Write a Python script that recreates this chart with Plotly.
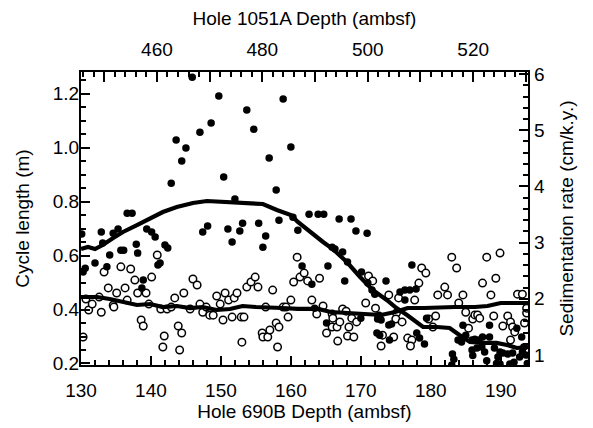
import plotly.graph_objects as go

# Filled dots (cycle length, m) vs depth
filled_x = [149.7,143.6,145.0,144.4,147.0,148.6,142.9,150.4,153.7,154.7,158.9,160.0,156.9,157.9,152.0,145.9,
            130.1,132.9,130.6,130.3,132.0,133.1,134.1,133.7,134.6,135.3,135.7,136.1,136.6,137.3,137.9,138.1,138.9,138.7,
            139.4,140.1,140.6,141.0,141.3,142.0,142.4,147.4,148.1,151.0,151.6,152.7,153.1,155.4,156.4,156.0,158.3,161.0,
            160.3,162.6,163.9,164.7,166.9,168.6,169.3,170.9,165.9,166.3,167.4,168.1,161.6,165.3,170.1,163.0,167.7,
            171.0,171.6,172.0,173.6,177.3,175.6,176.3,177.0,177.9,176.3,163.4,165.1,170.0,172.4,172.9,174.0,174.4,
            172.3,172.7,174.1,178.0,178.4,179.1,179.4,183.1,183.3,183.0,183.9,184.4,184.6,185.0,185.9,186.6,185.9,186.3,
            186.9,187.4,188.4,188.4,187.3,187.7,189.1,189.6,189.9,190.3,191.0,191.7,191.3,192.3,193.0,193.3,193.6,
            189.4,189.9,192.7,193.1,191.9,193.8,186.0,188.0]
filled_y = [1.191,1.028,0.998,0.950,1.057,1.091,0.868,0.891,1.139,1.068,1.180,1.002,0.961,0.843,0.809,1.261,
            0.680,0.687,0.553,0.539,0.572,0.646,0.602,0.558,0.683,0.698,0.620,0.620,0.757,0.757,0.642,0.609,0.509,0.480,
            0.698,0.687,0.669,0.565,0.572,0.639,0.628,0.687,0.709,0.698,0.650,0.691,0.720,0.720,0.672,0.631,0.731,0.694,
            0.742,0.753,0.753,0.753,0.735,0.735,0.691,0.683,0.631,0.624,0.613,0.576,0.561,0.561,0.539,0.494,0.506,
            0.498,0.472,0.457,0.506,0.565,0.465,0.472,0.472,0.476,0.435,0.405,0.350,0.368,0.365,0.361,0.343,0.346,
            0.313,0.305,0.287,0.313,0.294,0.272,0.368,0.235,0.216,0.194,0.287,0.280,0.342,0.305,0.250,0.257,0.287,0.290,
            0.287,0.298,0.342,0.298,0.261,0.243,0.257,0.224,0.243,0.239,0.235,0.239,0.198,0.331,0.298,0.261,0.231,
            0.200,0.198,0.224,0.243,0.205,0.200,0.230,0.210]

# Open circles (cycle length, m) vs depth
open_x = [130.3,130.7,131.1,131.6,132.6,132.9,133.3,133.9,134.6,134.7,135.1,135.7,136.3,136.6,137.1,137.7,138.1,
          138.6,138.9,139.3,139.7,140.1,140.9,141.4,141.7,141.9,142.3,142.9,143.4,143.9,144.4,144.1,144.7,145.6,146.0,
          146.6,147.0,147.4,147.9,148.4,148.9,149.4,149.9,150.3,150.6,151.1,151.6,151.9,152.3,152.9,153.3,153.0,153.7,
          154.3,154.9,155.3,155.9,156.0,156.7,156.4,157.0,157.4,157.9,158.3,158.1,158.9,159.3,159.6,160.0,160.4,160.9,
          161.3,161.9,162.4,164.1,163.0,164.6,163.7,165.9,166.0,165.1,165.9,166.6,167.0,166.7,167.4,167.9,168.3,168.1,
          169.0,168.7,169.4,171.1,171.7,170.7,172.1,172.6,173.1,172.9,174.0,174.7,175.1,175.0,175.4,175.9,176.7,177.3,
          177.1,177.7,178.3,178.7,179.3,179.7,180.7,180.3,181.0,182.0,182.4,183.0,183.7,184.0,184.6,185.0,185.4,186.0,
          186.3,186.7,187.0,187.4,188.0,188.6,189.3,189.9,189.0,190.3,191.0,191.4,191.7,192.0,192.4,193.1,193.7,193.7,
          193.4,191.4]
open_y = [0.298,0.439,0.398,0.420,0.446,0.390,0.539,0.480,0.416,0.409,0.461,0.558,0.480,0.435,0.550,0.509,0.461,
          0.361,0.339,0.461,0.420,0.520,0.602,0.402,0.261,0.302,0.402,0.409,0.443,0.339,0.313,0.250,0.461,0.402,0.513,
          0.491,0.420,0.390,0.409,0.379,0.379,0.450,0.420,0.361,0.461,0.435,0.372,0.443,0.461,0.372,0.372,0.279,0.483,
          0.502,0.520,0.483,0.313,0.298,0.298,0.409,0.324,0.472,0.350,0.335,0.261,0.409,0.409,0.372,0.435,0.502,0.594,
          0.520,0.535,0.506,0.516,0.435,0.413,0.383,0.383,0.368,0.313,0.335,0.335,0.354,0.283,0.402,0.394,0.335,0.302,
          0.298,0.368,0.354,0.524,0.506,0.424,0.405,0.376,0.305,0.265,0.454,0.298,0.387,0.365,0.443,0.354,0.294,0.287,
          0.265,0.435,0.498,0.554,0.535,0.365,0.376,0.335,0.454,0.483,0.454,0.594,0.554,0.424,0.454,0.390,0.331,0.365,
          0.380,0.380,0.368,0.498,0.594,0.454,0.516,0.609,0.376,0.339,0.376,0.354,0.335,0.317,0.457,0.457,0.387,0.405,
          0.350,0.287]

# Sedimentation rate curves (cm/k.y.)
sed_a_x = [130.0,131.0,132.0,133.1,134.6,136.0,138.0,139.9,141.7,143.7,146.0,148.0,150.9,153.7,156.0,158.0,160.0,
           161.0,162.7,164.6,166.0,168.0,169.9,171.7,173.7,175.1,176.6,178.0,178.9,180.9,182.7,184.1,185.6,187.4,
           189.4,190.9,192.3,193.9]
sed_a_y = [2.886,2.922,2.886,2.957,3.082,3.189,3.313,3.438,3.544,3.633,3.705,3.740,3.722,3.687,3.687,3.580,3.491,
           3.367,3.189,3.011,2.886,2.655,2.388,2.157,1.979,1.836,1.712,1.587,1.498,1.498,1.480,1.356,1.231,1.214,
           1.214,1.178,1.125,1.142]
sed_b_x = [130.0,132.3,134.1,136.0,138.0,139.9,141.7,143.7,145.6,147.4,149.4,151.3,153.1,155.0,156.9,158.7,161.0,
           163.9,165.7,168.1,170.6,172.9,174.9,176.7,179.1,181.4,183.4,186.3,188.1,190.0,192.0,193.9]
sed_b_y = [2.032,2.032,1.996,1.943,1.890,1.907,1.854,1.872,1.836,1.854,1.801,1.819,1.872,1.854,1.836,1.836,1.819,
           1.819,1.765,1.747,1.712,1.712,1.765,1.836,1.836,1.854,1.854,1.854,1.872,1.925,1.925,1.925]

top_ticks = [450, 460, 470, 480, 490, 500, 510, 520, 530]
top_labels = ["", "460", "", "480", "", "500", "", "520", ""]

FONT = "Liberation Sans, Arial, Helvetica, sans-serif"

fig = go.Figure()
fig.add_trace(go.Scatter(x=open_x, y=open_y, mode="markers",
                         marker=dict(symbol="circle", size=7.5, color="white",
                                     line=dict(color="black", width=1.5)),
                         showlegend=False))
fig.add_trace(go.Scatter(x=filled_x, y=filled_y, mode="markers",
                         marker=dict(symbol="circle", size=7.5, color="black"),
                         showlegend=False))
fig.add_trace(go.Scatter(x=sed_a_x, y=sed_a_y, mode="lines", yaxis="y2",
                         line=dict(color="black", width=4.2), showlegend=False))
fig.add_trace(go.Scatter(x=sed_b_x, y=sed_b_y, mode="lines", yaxis="y2",
                         line=dict(color="black", width=4.2), showlegend=False))
# invisible trace to anchor the top axis
fig.add_trace(go.Scatter(x=[460], y=[0.5], xaxis="x2", mode="markers",
                         marker=dict(opacity=0), showlegend=False, hoverinfo="skip"))

axis_common = dict(showline=True, linecolor="black", linewidth=2.2, ticks="inside",
                   tickcolor="black", tickwidth=2, showgrid=False, zeroline=False,
                   tickfont=dict(family=FONT, size=19, color="black"), mirror=False,
                   automargin=False)
TF = dict(family=FONT, size=19, color="black")

# page body adds an 8px offset; figure is sized to fit the 593x428 window
fig.update_layout(
    width=585, height=420,
    margin=dict(l=73, r=65, t=64, b=63),
    paper_bgcolor="white", plot_bgcolor="white",
    font=dict(family=FONT, color="black"),
    xaxis=dict(range=[130, 193.9], tickvals=[130, 140, 150, 160, 170, 180, 190], ticklen=9,
               ticklabelstandoff=7,
               minor=dict(ticks="inside", dtick=2, ticklen=5, tickcolor="black", tickwidth=2),
               title=dict(text="Hole 690B Depth (ambsf)", font=TF, standoff=3),
               **axis_common),
    xaxis2=dict(range=[445.6, 530.4], overlaying="x", side="top", anchor="y",
                tickmode="array", tickvals=top_ticks, ticktext=top_labels, ticklen=10,
                ticklabelstandoff=6,
                minor=dict(ticks="inside", dtick=2, ticklen=5, tickcolor="black", tickwidth=2),
                title=dict(text="Hole 1051A Depth (ambsf)", font=TF, standoff=10),
                **axis_common),
    yaxis=dict(range=[0.1944, 1.28], tickvals=[0.2, 0.4, 0.6, 0.8, 1.0, 1.2], tickformat=".1f", ticklen=9,
               ticklabelstandoff=-4,
               minor=dict(ticks="inside", dtick=0.05, ticklen=5, tickcolor="black", tickwidth=2),
               title=dict(text="Cycle length (m)", font=TF, standoff=18),
               **axis_common),
    yaxis2=dict(range=[0.822, 6.036], overlaying="y", side="right", anchor="x",
                tickvals=[1, 2, 3, 4, 5, 6], ticklen=9,
                minor=dict(ticks="inside", dtick=0.2, ticklen=5, tickcolor="black", tickwidth=2),
                title=dict(text="Sedimentation rate (cm/k.y.)", font=TF, standoff=16),
                **axis_common),
)

fig.write_html("out.html")
